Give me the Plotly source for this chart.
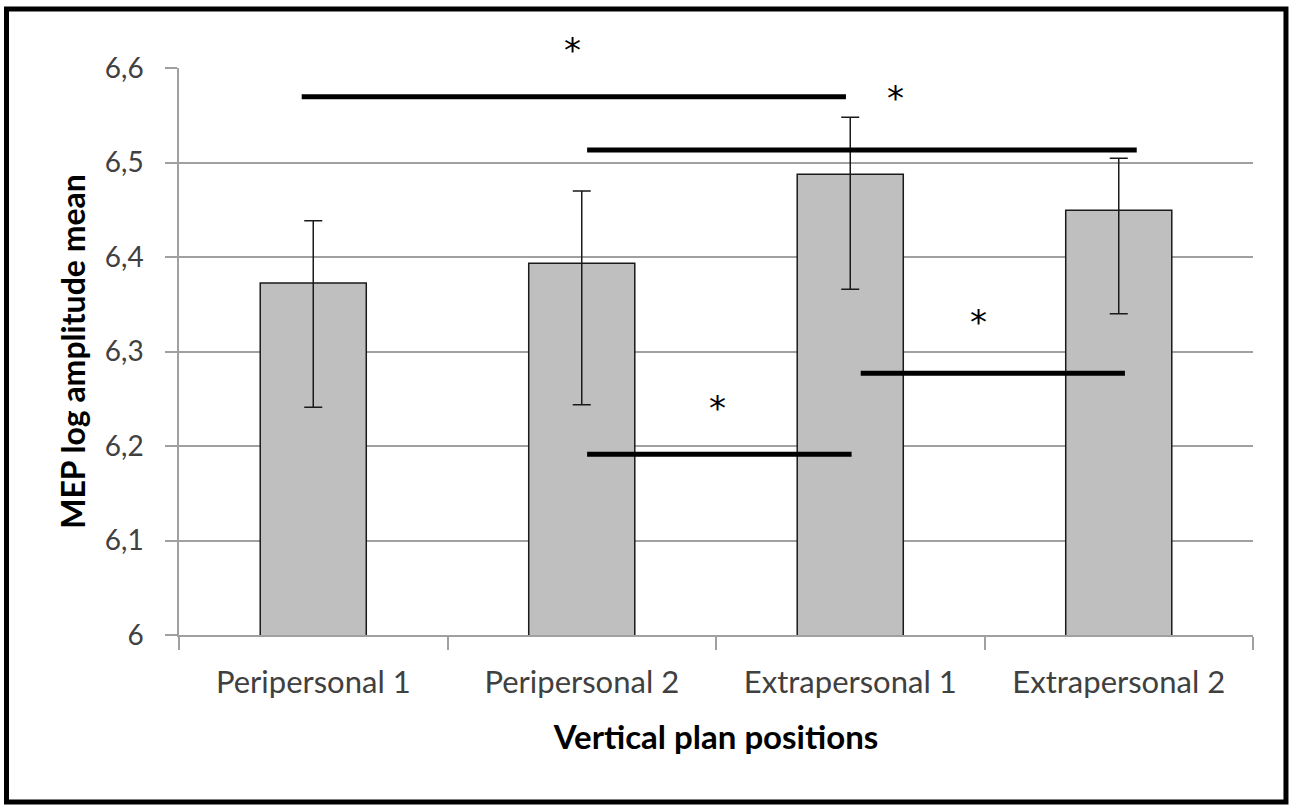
import plotly.graph_objects as go

categories = ["Peripersonal 1", "Peripersonal 2", "Extrapersonal 1", "Extrapersonal 2"]
means = [6.3725, 6.3933, 6.4875, 6.4494]
err_top = [6.4384, 6.4698, 6.5479, 6.5044]
err_bottom = [6.2410, 6.2437, 6.3658, 6.3400]

y_tickvals = [6.0, 6.1, 6.2, 6.3, 6.4, 6.5, 6.6]
y_ticktext = ["6", "6,1", "6,2", "6,3", "6,4", "6,5", "6,6"]

# significance brackets (category-index units, y data units)
sig_x0 = [-0.043, 1.020, 1.020, 2.039]
sig_x1 = [1.984, 3.067, 2.005, 3.023]
sig_y = [6.5696, 6.5132, 6.1912, 6.2769]
star_x = [0.964, 2.170, 1.504, 2.478]
star_y = [6.624, 6.5735, 6.2458, 6.3368]

FONT = "Lato"
AXIS_GRAY = "#A0A0A0"
Y_MIN, Y_MAX = 6.0, 6.6

plus = [t - m for t, m in zip(err_top, means)]
minus = [m - b for m, b in zip(means, err_bottom)]

fig = go.Figure()
fig.add_trace(go.Bar(
    x=categories, y=means,
    marker=dict(color="#BFBFBF", line=dict(color="#1a1a1a", width=1.5)),
    width=0.395,
    error_y=dict(type="data", symmetric=False, array=plus, arrayminus=minus,
                 color="#1a1a1a", thickness=1.5, width=9),
    showlegend=False,
))

shapes = []
for x0, x1, y in zip(sig_x0, sig_x1, sig_y):
    shapes.append(dict(type="line", xref="x", yref="y", x0=x0, x1=x1, y0=y, y1=y,
                       line=dict(color="black", width=5), layer="above"))
# outer frame
shapes.append(dict(type="rect", xref="paper", yref="paper",
                   x0=-0.1606, x1=1.0307, y0=-0.2945, y1=1.104,
                   line=dict(color="black", width=5), fillcolor="rgba(0,0,0,0)"))

annotations = []
for sx, sy in zip(star_x, star_y):
    annotations.append(dict(x=sx, y=(sy - Y_MIN) / (Y_MAX - Y_MIN), xref="x", yref="paper",
                            text="*", showarrow=False, yshift=-5,
                            font=dict(family="DejaVu Sans", size=34, color="black"),
                            xanchor="center", yanchor="middle"))

fig.update_layout(
    width=1293, height=807,
    margin=dict(l=179, r=40, t=68, b=172),
    paper_bgcolor="white", plot_bgcolor="white",
    shapes=shapes, annotations=annotations,
    font=dict(family=FONT, color="#404040"),
    xaxis=dict(
        type="category", range=[-0.5, 3.5],
        showline=True, linecolor=AXIS_GRAY, linewidth=1.5,
        ticks="outside", tickson="boundaries", ticklen=13, tickcolor=AXIS_GRAY, tickwidth=1.5,
        tickfont=dict(family=FONT, size=31, color="#404040"),
        ticklabelstandoff=19,
        showgrid=False,
        title=dict(text="<b>Vertical plan positions</b>", font=dict(family=FONT, size=33, color="black"),
                   standoff=27),
    ),
    yaxis=dict(
        range=[Y_MIN, Y_MAX], tickvals=y_tickvals, ticktext=y_ticktext,
        showline=True, linecolor=AXIS_GRAY, linewidth=1.5,
        showgrid=True, gridcolor=AXIS_GRAY, gridwidth=1.5,
        ticks="outside", ticklen=12, tickcolor=AXIS_GRAY, tickwidth=1.5,
        tickfont=dict(family=FONT, size=28, color="#404040"),
        ticklabelstandoff=16,
        zeroline=False,
        title=dict(text="<b>MEP log amplitude mean</b>", font=dict(family=FONT, size=32, color="black"),
                   standoff=10),
    ),
)

fig.write_html("out.html")
